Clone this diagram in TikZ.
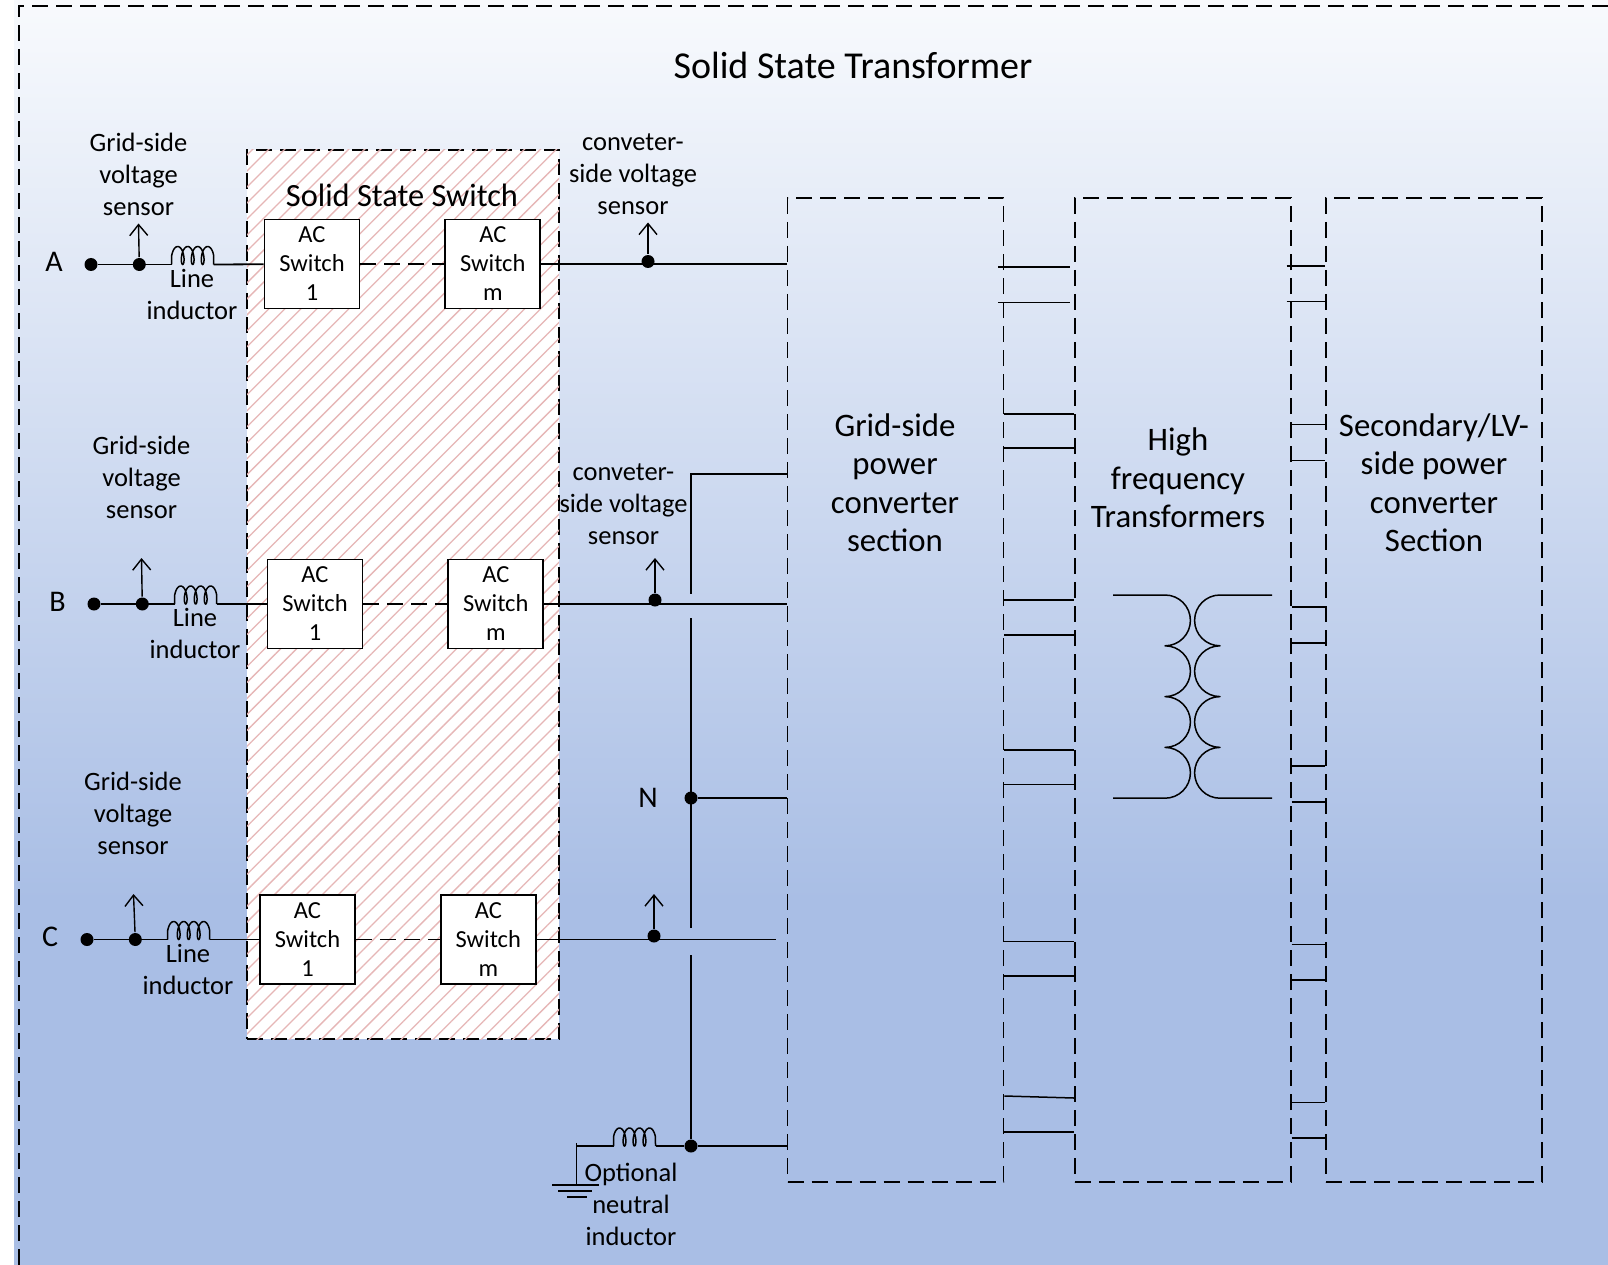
\documentclass[tikz,border=0pt]{standalone}
\usepackage{fontspec}
\setmainfont{Carlito}
\usepackage{tikz}
\usetikzlibrary{arrows.meta,positioning,patterns.meta}
\definecolor{bgtop}{HTML}{F8FAFD}
\definecolor{bgbot}{HTML}{A9BEE5}
\definecolor{hatchred}{HTML}{E6B6B6}
\tikzset{
  pics/coil/.style={code={
    \draw[line width=1.5pt] (0,0) -- (0,-9)
      plot[domain=1.571:23.562,samples=90,variable=\t]
        ({1.59*(\t-1.571)-3.5*sin(\t r)+3.5},{-9*(1-cos(\t r))}) -- (42,0);
  }}
}
\begin{document}
\begin{tikzpicture}[
      x=1pt,y=-1pt,
      >={Straight Barb[length=11pt,width=18pt]},line width=1.8pt,
      longdash/.style={dash pattern=on 16pt off 8pt},
      acswitch/.style={rectangle,draw,fill=white,minimum width=95pt,minimum height=89pt,inner sep=0pt,
        align=center,font=\fontsize{24.5}{29}\selectfont},
      block/.style={rectangle,draw,longdash,minimum width=216pt,minimum height=984pt,inner sep=0pt},
      dot/.style={circle,fill=black,minimum size=13pt,inner sep=0pt},
      note/.style={align=center,inner sep=0pt,font=\fontsize{26.5}{32}\selectfont},
      bignote/.style={align=center,inner sep=0pt,font=\fontsize{32.8}{38.5}\selectfont},
      phase/.style={inner sep=0pt,font=\fontsize{30}{34}\selectfont}
    ]
      \useasboundingbox (0,0) rectangle (1608,1265);
      % background
      \shade[top color=bgtop,bottom color=bgbot] (14,0) rectangle (1608,900);
      \fill[bgbot] (14,899) rectangle (1608,1265);
      \node[phase,font=\fontsize{38}{44}\selectfont] (title) at (853,65) {Solid State Transformer};
      \draw[longdash] (19,1265) -- (19,6) -- (1608,6);
      % switch area
      \node[rectangle,minimum width=312pt,minimum height=889pt,inner sep=0pt,draw,longdash,
            preaction={fill=white},
            postaction={pattern={Lines[angle=45,distance=11.3pt,line width=1.3pt]},pattern color=hatchred}]
            (SSS) at (403,594.5) {};
      \node[bignote,font=\fontsize{32.4}{36}\selectfont] (ssstitle) at (402,195) {Solid State Switch};
      % power blocks
      \node[block] (GP) at (895.5,690) {};
      \node[block,right=69.5pt of GP] (HF) {};
      \node[block,right=33.5pt of HF] (LV) {};
      \node[bignote] at (895,482.5) {Grid-side\\power\\converter\\section};
      \node[bignote] at (1178,478) {High\\frequency\\Transformers};
      \node[bignote] at (1434,482.5) {Secondary/LV-\\side power\\converter\\Section};
      % phase A
      \node[phase] (A) at (54,262) {A};
      \node[dot] (tA) at (91,264.5) {};
      \node[dot,right=33.5pt of tA] (jA) {};
      \coordinate[right=25pt of jA] (LAa);
      \coordinate[right=42pt of LAa] (LAb);
      \node[acswitch] (S1A) at (312,264) {AC\\Switch\\1};
      \node[acswitch,right=84pt of S1A] (SmA) {AC\\Switch\\m};
      \coordinate (sA) at (138.5,223.5);
      \node[dot] (cA) at (648,261.5) {};
      \coordinate (vA) at (648,222.5);
      \draw (tA) -- (LAa) pic {coil};
      \draw (LAb) -- (S1A);
      \draw[longdash] (S1A) -- (SmA);
      \draw (SmA) -- (GP.west |- SmA);
      \draw[->,line width=1.4pt] (jA) -- (sA);
      \draw[->,line width=1.4pt] (cA) -- (vA);
      \node[note] at (138.5,174) {Grid-side\\voltage\\sensor};
      \node[note] at (192,294) {Line\\inductor};
      \node[note] at (633,174) {conveter-\\side voltage\\sensor};
      % phase B
      \node[phase] (B) at (57.5,602) {B};
      \node[dot] (tB) at (94,604) {};
      \node[dot,right=33.5pt of tB] (jB) {};
      \coordinate[right=25pt of jB] (LBa);
      \coordinate[right=42pt of LBa] (LBb);
      \node[acswitch] (S1B) at (315,604) {AC\\Switch\\1};
      \node[acswitch,right=84pt of S1B] (SmB) {AC\\Switch\\m};
      \coordinate (sB) at (141.5,558);
      \node[dot] (cB) at (655,600) {};
      \coordinate (vB) at (655,558);
      \draw (tB) -- (LBa) pic {coil};
      \draw (LBb) -- (S1B);
      \draw[longdash] (S1B) -- (SmB);
      \draw (SmB) -- (GP.west |- SmB);
      \draw[->,line width=1.4pt] (jB) -- (sB);
      \draw[->,line width=1.4pt] (cB) -- (vB);
      \node[note] at (141.5,477) {Grid-side\\voltage\\sensor};
      \node[note] at (195,633) {Line\\inductor};
      \node[note] at (623.5,504.5) {conveter-\\side voltage\\sensor};
      % phase C
      \node[phase] (C) at (50,937) {C};
      \node[dot] (tC) at (87,939.5) {};
      \node[dot,right=33.5pt of tC] (jC) {};
      \coordinate[right=25pt of jC] (LCa);
      \coordinate[right=42pt of LCa] (LCb);
      \node[acswitch] (S1C) at (307.5,939.5) {AC\\Switch\\1};
      \node[acswitch,right=84pt of S1C] (SmC) {AC\\Switch\\m};
      \coordinate (sC) at (133.5,894);
      \node[dot] (cC) at (654,936) {};
      \coordinate (vC) at (654,894);
      \coordinate (eC) at (776,939.5);
      \draw (tC) -- (LCa) pic {coil};
      \draw (LCb) -- (S1C);
      \draw[longdash] (S1C) -- (SmC);
      \draw (SmC) -- (eC);
      \draw[->,line width=1.4pt] (jC) -- (sC);
      \draw[->,line width=1.4pt] (cC) -- (vC);
      \node[note] at (133,813) {Grid-side\\voltage\\sensor};
      \node[note] at (188,969) {Line\\inductor};
      % neutral
      \node[phase] (N) at (648,798) {N};
      \node[dot] (jN) at (691,798) {};
      \node[dot] (jG) at (691,1146) {};
      \coordinate (n0) at (691,474);
      \coordinate (n1) at (691,594);
      \coordinate (n2) at (691,618);
      \coordinate (n3) at (691,928);
      \coordinate (n4) at (691,955);
      \draw (GP.west |- n0) -- (n0) -- (n1);
      \draw (n2) -- (n3);
      \draw (n4) -- (jG);
      \draw (jN) -- (GP.west |- jN);
      \draw (jG) -- (GP.west |- jG);
      \coordinate (LNa) at (613.5,1146);
      \coordinate (LNb) at (655.5,1146);
      \coordinate (gnd) at (576.5,1185);
      \draw (jG) -- (LNb);
      \draw (LNa) pic {coil} -- (576.5,1146);
      \draw (576.5,1143) -- (gnd);
      \draw[line width=1.5pt] (552,1185) -- (599,1185) (558,1191) -- (592,1191) (567,1197) -- (587,1197);
      \node[note] at (631,1204) {Optional\\neutral\\inductor};
      % transformer
      \draw[line width=1.5pt,line join=round] (1113,595) -- (1165,595)
        arc[start angle=90,end angle=-90,radius=25.4pt]
        arc[start angle=90,end angle=-90,radius=25.4pt]
        arc[start angle=90,end angle=-90,radius=25.4pt]
        arc[start angle=90,end angle=-90,radius=25.4pt] -- (1113,798.2);
      \draw[line width=1.5pt,line join=round] (1272,595) -- (1220,595)
        arc[start angle=90,end angle=270,radius=25.4pt]
        arc[start angle=90,end angle=270,radius=25.4pt]
        arc[start angle=90,end angle=270,radius=25.4pt]
        arc[start angle=90,end angle=270,radius=25.4pt] -- (1272,798.2);
      % links between blocks
      \draw[line width=1.5pt] ([xshift=-6pt]GP.east |- 0,267) -- ([xshift=-4pt]HF.west |- 0,267);
      \draw[line width=1.5pt] ([xshift=-6pt]GP.east |- 0,302.5) -- ([xshift=-4pt]HF.west |- 0,302.5);
      \draw[line width=1.5pt] (GP.east |- 0,414) -- (HF.west |- 0,414);
      \draw[line width=1.5pt] (GP.east |- 0,448) -- (HF.west |- 0,448);
      \draw[line width=1.5pt] (GP.east |- 0,600) -- (HF.west |- 0,600);
      \draw[line width=1.5pt] (GP.east |- 0,635) -- (HF.west |- 0,635);
      \draw[line width=1.5pt] (GP.east |- 0,750) -- (HF.west |- 0,750);
      \draw[line width=1.5pt] (GP.east |- 0,784.5) -- (HF.west |- 0,784.5);
      \draw[line width=1.5pt] (GP.east |- 0,941.5) -- (HF.west |- 0,941.5);
      \draw[line width=1.5pt] (GP.east |- 0,976) -- (HF.west |- 0,976);
      \draw[line width=1.5pt] (GP.east |- 0,1096) -- (HF.west |- 0,1098);
      \draw[line width=1.5pt] (GP.east |- 0,1132) -- (HF.west |- 0,1132);
      \draw[line width=1.5pt] ([xshift=-5pt]HF.east |- 0,266) -- (LV.west |- 0,266);
      \draw[line width=1.5pt] ([xshift=-5pt]HF.east |- 0,301.5) -- (LV.west |- 0,301.5);
      \draw[line width=1.5pt] (HF.east |- 0,424.5) -- (LV.west |- 0,424.5);
      \draw[line width=1.5pt] (HF.east |- 0,460.5) -- (LV.west |- 0,460.5);
      \draw[line width=1.5pt] (HF.east |- 0,607) -- (LV.west |- 0,607);
      \draw[line width=1.5pt] (HF.east |- 0,643) -- (LV.west |- 0,643);
      \draw[line width=1.5pt] (HF.east |- 0,766) -- (LV.west |- 0,766);
      \draw[line width=1.5pt] (HF.east |- 0,802) -- (LV.west |- 0,802);
      \draw[line width=1.5pt] (HF.east |- 0,944.5) -- (LV.west |- 0,944.5);
      \draw[line width=1.5pt] (HF.east |- 0,980) -- (LV.west |- 0,980);
      \draw[line width=1.5pt] (HF.east |- 0,1102.5) -- (LV.west |- 0,1102.5);
      \draw[line width=1.5pt] (HF.east |- 0,1138) -- (LV.west |- 0,1138);
    \end{tikzpicture}
\end{document}
